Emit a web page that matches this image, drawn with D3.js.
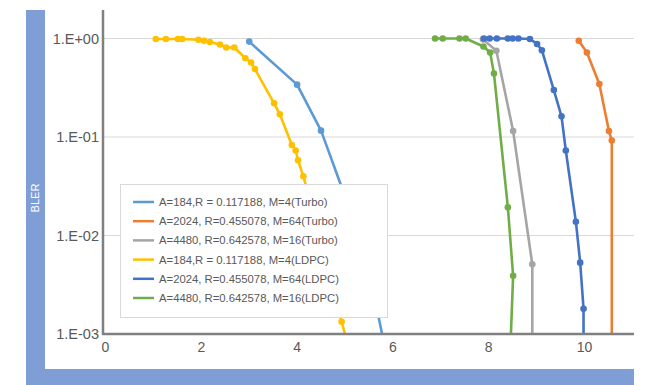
<!DOCTYPE html>
<html>
<head>
<meta charset="utf-8">
<script src="https://cdn.jsdelivr.net/npm/d3@7"></script>
<style>
  body { margin: 0; background: #fff; }
  text { font-family: "Liberation Sans", Arial, sans-serif; }
</style>
</head>
<body>
<div id="chart"></div>
<script>
// series names (legend order)
var names = [
    'A=184,R = 0.117188, M=4(Turbo)',
    'A=2024, R=0.455078, M=64(Turbo)',
    'A=4480, R=0.642578, M=16(Turbo)',
    'A=184,R = 0.117188, M=4(LDPC)',
    'A=2024, R=0.455078, M=64(LDPC)',
    'A=4480, R=0.642578, M=16(LDPC)'
];
var colors = ['#5B9BD5', '#ED7D31', '#A5A5A5', '#FFC000', '#4472C4', '#70AD47'];

// SNR (x) and BLER (y) per series
var turbo184X = [3.0, 4.0, 4.5, 5.0, 5.5, 5.9];
var turbo184Y = [0.93, 0.34, 0.116, 0.025, 0.0045, 0.0005];

var turbo2024X = [9.88, 10.05, 10.31, 10.51, 10.57, 10.57];
var turbo2024Y = [0.95, 0.72, 0.345, 0.115, 0.092, 0.0005];

var turbo4480X = [7.88, 8.16, 8.51, 8.91, 8.91];
var turbo4480Y = [0.98, 0.75, 0.115, 0.0051, 0.0005];

var ldpc184X = [1.05, 1.26, 1.51, 1.60, 1.94, 2.06, 2.18, 2.39, 2.52, 2.69, 2.92, 3.04, 3.12,
                3.52, 3.64, 3.89, 3.97, 4.02, 4.13, 4.3, 4.5, 4.7, 4.93, 5.17];
var ldpc184Y = [0.99, 0.99, 0.99, 0.99, 0.97, 0.95, 0.92, 0.87, 0.81, 0.81, 0.63, 0.57, 0.49,
                0.22, 0.17, 0.083, 0.073, 0.058, 0.040, 0.02, 0.009, 0.0035, 0.00133, 0.0005];

var ldpc2024X = [7.90, 8.02, 8.17, 8.40, 8.50, 8.62, 8.86, 9.01, 9.11, 9.36, 9.52, 9.61, 9.82, 9.91, 9.98, 9.98];
var ldpc2024Y = [1.0, 1.0, 1.0, 1.0, 1.0, 1.0, 0.99, 0.88, 0.76, 0.30, 0.162, 0.073, 0.0138, 0.0053, 0.0018, 0.0005];

var ldpc4480X = [6.88, 7.04, 7.39, 7.52, 7.89, 8.03, 8.11, 8.40, 8.51, 8.44];
var ldpc4480Y = [1.0, 1.0, 1.0, 1.0, 0.83, 0.72, 0.44, 0.0193, 0.0039, 0.0005];

var xTicks = [0, 2, 4, 6, 8, 10];
var yTicks = [1, 0.1, 0.01, 0.001];
var yTickLabels = ['1.E+00', '1.E-01', '1.E-02', '1.E-03'];

var seriesX = [turbo184X, turbo2024X, turbo4480X, ldpc184X, ldpc2024X, ldpc4480X];
var seriesY = [turbo184Y, turbo2024Y, turbo4480Y, ldpc184Y, ldpc2024Y, ldpc4480Y];
var series = names.map((n, i) => ({
    name: n,
    color: colors[i],
    points: seriesX[i].map((x, j) => ({ x: x, y: seriesY[i][j] }))
}));

var W = 649, H = 385;
var plot = { left: 104, right: 634, top: 10, bottom: 334 };

var svg = d3.select('#chart').append('svg')
    .attr('width', W)
    .attr('height', H);

var x = d3.scaleLinear().domain([0, 11]).range([105.5, 632.4]);
var y = d3.scaleLog().domain([0.001, 1]).range([334, 38.5]);

// blue title bars (axis title boxes)
var barColor = '#809ED6';
svg.append('rect')
    .attr('x', 26).attr('y', 10)
    .attr('width', 19).attr('height', H - 10)
    .attr('fill', barColor);
svg.append('rect')
    .attr('x', 26).attr('y', 369)
    .attr('width', 608).attr('height', 16)
    .attr('fill', barColor);

svg.append('text')
    .attr('transform', 'translate(39,198) rotate(-90)')
    .attr('text-anchor', 'middle')
    .attr('fill', '#fff')
    .style('font-size', '11px')
    .text('BLER');

// gridlines
svg.selectAll('.grid')
    .data(yTicks.slice(0, 3))
    .enter()
    .append('line')
    .attr('class', 'grid')
    .attr('x1', plot.left)
    .attr('x2', plot.right)
    .attr('y1', d => y(d))
    .attr('y2', d => y(d))
    .attr('stroke', '#d9d9d9')
    .attr('stroke-width', 1);

// lines and markers, clipped to plot area
svg.append('clipPath').attr('id', 'clip')
    .append('rect')
    .attr('x', plot.left).attr('y', plot.top)
    .attr('width', plot.right - plot.left)
    .attr('height', plot.bottom - plot.top);

var line = d3.line()
    .x(d => x(d.x))
    .y(d => y(d.y));

var g = svg.append('g').attr('clip-path', 'url(#clip)');

var sg = g.selectAll('.series')
    .data(series)
    .enter()
    .append('g')
    .attr('class', 'series');

sg.append('path')
    .attr('d', d => line(d.points))
    .attr('fill', 'none')
    .attr('stroke', d => d.color)
    .attr('stroke-width', 2.6)
    .attr('stroke-linejoin', 'round');

sg.selectAll('circle')
    .data(d => d.points.map(p => ({ x: p.x, y: p.y, color: d.color })))
    .enter()
    .append('circle')
    .attr('cx', d => x(d.x))
    .attr('cy', d => y(d.y))
    .attr('r', 3.3)
    .attr('fill', d => d.color);

// axes
var axisColor = '#808080';
svg.append('line')
    .attr('x1', 103).attr('x2', 103)
    .attr('y1', plot.top).attr('y2', plot.bottom + 1)
    .attr('stroke', axisColor).attr('stroke-width', 2.5);
svg.append('line')
    .attr('x1', 102).attr('x2', plot.right)
    .attr('y1', plot.bottom).attr('y2', plot.bottom)
    .attr('stroke', axisColor).attr('stroke-width', 2.5);

svg.selectAll('.ylab')
    .data(yTicks)
    .enter()
    .append('text')
    .attr('class', 'ylab')
    .attr('x', 99)
    .attr('y', d => y(d) + 5)
    .attr('text-anchor', 'end')
    .attr('fill', '#595959')
    .style('font-size', '14.5px')
    .text((d, i) => yTickLabels[i]);

svg.selectAll('.xlab')
    .data(xTicks)
    .enter()
    .append('text')
    .attr('class', 'xlab')
    .attr('x', d => x(d))
    .attr('y', 352)
    .attr('text-anchor', 'middle')
    .attr('fill', '#595959')
    .style('font-size', '14px')
    .text(d => d);

// legend
var lg = svg.append('g').attr('transform', 'translate(120,184)');
lg.append('rect')
    .attr('x', 0.5).attr('y', 0.5)
    .attr('width', 267).attr('height', 133)
    .attr('fill', '#fff')
    .attr('stroke', '#d9d9d9');

var items = lg.selectAll('.item')
    .data(series)
    .enter()
    .append('g')
    .attr('class', 'item')
    .attr('transform', (d, i) => 'translate(0,' + (18 + i * 19.2) + ')');

items.append('line')
    .attr('x1', 13).attr('x2', 34)
    .attr('y1', 0).attr('y2', 0)
    .attr('stroke', d => d.color)
    .attr('stroke-width', 2.5);

items.append('text')
    .attr('x', 39)
    .attr('y', 4)
    .attr('fill', '#595959')
    .style('font-size', '11.3px')
    .text(d => d.name);
</script>
</body>
</html>
